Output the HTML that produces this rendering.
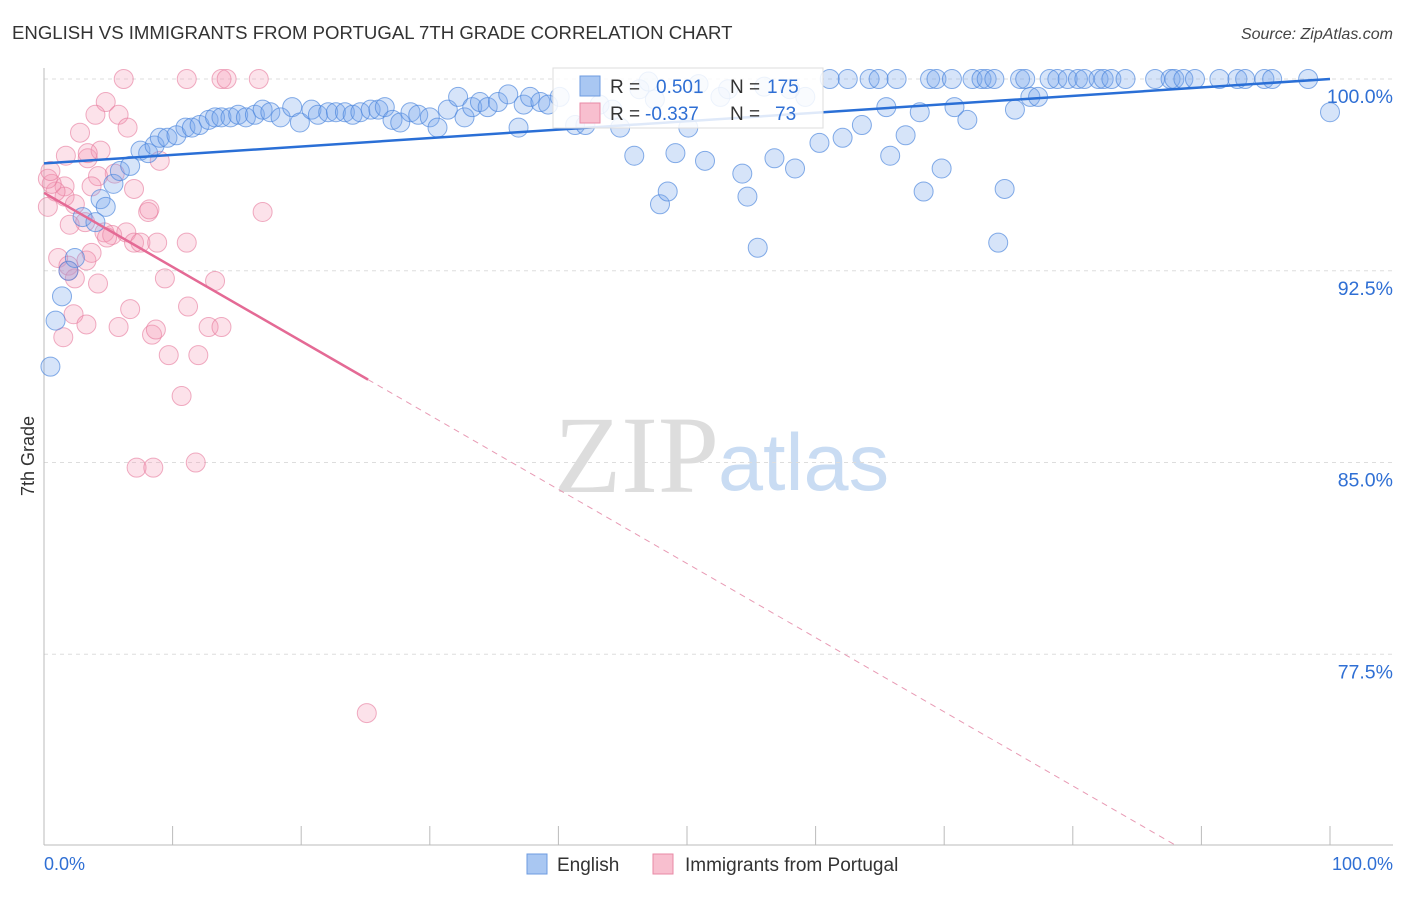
<!DOCTYPE html>
<html><head><meta charset="utf-8"><style>
body{margin:0;background:#fff;font-family:"Liberation Sans",sans-serif;}
svg text{font-family:"Liberation Sans",sans-serif;}
</style></head><body>
<svg id="chart" width="1406" height="892" viewBox="0 0 1406 892">
<text x="12" y="39" font-size="18.6" fill="#333">ENGLISH VS IMMIGRANTS FROM PORTUGAL 7TH GRADE CORRELATION CHART</text>
<text x="1393" y="39" font-size="16" fill="#444" font-style="italic" text-anchor="end">Source: ZipAtlas.com</text>
<text x="554" y="492" font-size="110" fill="#ddd" style="font-family:'Liberation Serif',serif">ZIP</text>
<text x="718" y="490" font-size="81" fill="#c9dcf3">atlas</text>
<g id="grid"></g>
<g id="axes"></g>
<g id="pts"></g>
<g id="lines"></g>
<text transform="translate(34,456) rotate(-90)" font-size="18" fill="#333" text-anchor="middle">7th Grade</text>
<g>
<rect x="553" y="68" width="270" height="60" fill="#fff" fill-opacity="0.85" stroke="#ddd"/>
<rect x="580" y="76" width="20" height="20" fill="#a9c7f2" stroke="#6d9be0"/>
<rect x="580" y="103" width="20" height="20" fill="#f8bfcf" stroke="#e88aa6"/>
<text x="610" y="93" font-size="19" fill="#333">R = </text><text x="656" y="93" font-size="19" fill="#2f6fd4">0.501</text>
<text x="730" y="93" font-size="19" fill="#333">N = </text><text x="767" y="93" font-size="19" fill="#2f6fd4">175</text>
<text x="610" y="120" font-size="19" fill="#333">R = </text><text x="645" y="120" font-size="19" fill="#2f6fd4">-0.337</text>
<text x="730" y="120" font-size="19" fill="#333">N = </text><text x="775" y="120" font-size="19" fill="#2f6fd4">73</text>
</g>
<g>
<rect x="527" y="854" width="20" height="20" fill="#a9c7f2" stroke="#6d9be0"/>
<text x="557" y="871" font-size="19" fill="#333">English</text>
<rect x="653" y="854" width="20" height="20" fill="#f8bfcf" stroke="#e88aa6"/>
<text x="685" y="871" font-size="19" fill="#333">Immigrants from Portugal</text>
</g>
<text x="44" y="870" font-size="18" fill="#2f6fd4">0.0%</text>
<text x="1393" y="870" font-size="18" fill="#2f6fd4" text-anchor="end">100.0%</text>
</svg>
<script>
const yTicks=[100,92.5,85,77.5];
const yTickLabels=["100.0%","92.5%","85.0%","77.5%"];
const xTicks=[0,10,20,30,40,50,60,70,80,90,100];
const englishX=[0.5,0.9,1.4,1.9,2.4,3.0,4.0,4.4,4.8,5.4,5.9,6.7,7.5,8.1,8.6,9.0,9.6,10.3,11.0,11.5,12.1,12.8,13.3,13.8,14.5,15.1,15.7,16.4,17.0,17.6,18.4,19.3,19.9,20.8,21.3,22.1,22.7,23.4,24.0,24.6,25.4,26.0,26.5,27.1,27.7,28.5,29.1,30.0,30.6,31.4,32.2,32.7,33.3,33.9,34.5,35.3,36.1,36.9,37.3,37.8,38.6,39.2,40.1,41.3,42.1,43.2,44.2,44.8,45.9,46.3,47.5,47.9,48.5,49.1,50.1,51.4,52.6,54.3,54.7,55.5,56.8,58.4,59.2,60.3,61.1,62.1,62.5,63.6,64.2,64.9,65.5,65.8,66.3,67.0,68.1,68.4,68.9,69.4,69.8,70.6,70.8,71.8,72.2,72.9,73.3,73.9,74.2,74.7,75.5,75.9,76.3,76.7,77.3,78.2,78.8,79.6,80.4,80.9,82.0,82.4,83.0,84.1,86.4,87.6,87.9,88.6,89.5,91.4,92.8,93.4,94.9,95.5,98.3,100,47.0,50.9,53.2,56.0,58.0];
const englishY=[88.75,90.55,91.5,92.5,93.0,94.6,94.4,95.3,95.0,95.9,96.4,96.6,97.2,97.1,97.4,97.7,97.7,97.8,98.1,98.1,98.2,98.4,98.5,98.5,98.5,98.6,98.5,98.6,98.8,98.7,98.5,98.9,98.3,98.8,98.6,98.7,98.7,98.7,98.6,98.7,98.8,98.8,98.9,98.4,98.3,98.7,98.6,98.5,98.1,98.8,99.3,98.5,98.9,99.1,98.9,99.1,99.4,98.1,99.0,99.3,99.1,99.0,99.3,98.2,98.2,99.0,98.8,98.1,97.0,99.6,99.2,95.1,95.6,97.1,98.1,96.8,99.3,96.3,95.4,93.4,96.9,96.5,99.3,97.5,100,97.7,100,98.2,100,100,98.9,97.0,100,97.8,98.7,95.6,100,100,96.5,100,98.9,98.4,100,100,100,100,93.6,95.7,98.8,100,100,99.3,99.3,100,100,100,100,100,100,100,100,100,100,100,100,100,100,100,100,100,100,100,100,98.7,99.9,99.8,99.6,99.7,99.6];
const portugalX=[6.2,11.1,13.8,14.2,16.7,4.8,4.0,5.8,2.8,6.5,3.4,1.7,4.4,3.4,5.5,4.2,3.7,1.6,1.6,0.9,0.6,0.3,0.3,2.4,7.0,8.1,8.2,17.0,2.0,3.2,4.7,5.3,6.4,7.0,7.5,8.8,11.1,4.9,1.1,1.9,3.3,3.7,2.4,4.2,9.4,13.3,6.7,11.2,2.3,5.8,3.3,8.4,8.7,12.8,13.8,1.5,9.7,12.0,10.7,7.2,8.5,11.8,25.1,9.0,1.9,0.5];
const portugalY=[100,100,100,100,100,99.1,98.6,98.6,97.9,98.1,96.9,97.0,97.2,97.1,96.3,96.2,95.8,95.8,95.4,95.6,95.9,96.1,95.0,95.1,95.7,94.8,94.9,94.8,94.3,94.4,94.0,93.9,94.0,93.6,93.6,93.6,93.6,93.8,93.0,92.7,92.9,93.2,92.2,92.0,92.2,92.1,91.0,91.1,90.8,90.3,90.4,90.0,90.2,90.3,90.3,89.9,89.2,89.2,87.6,84.8,84.8,85.0,75.2,96.8,92.5,96.4];
const englishTrend=[96.7,100.0];
const portugalTrend=[95.55,-0.29];
const portugalSolidEnd=25.2;

const NS="http://www.w3.org/2000/svg";
const X0=44,X1=1330,YTOP=79,YBOT=845,YMIN=70.04,YMAX=100;
const sx=v=>X0+(v/100)*(X1-X0);
const sy=v=>YBOT-(v-YMIN)/(YMAX-YMIN)*(YBOT-YTOP);
function mk(tag,attrs,parent){const e=document.createElementNS(NS,tag);for(const k in attrs)e.setAttribute(k,attrs[k]);parent.appendChild(e);return e;}
const grid=document.getElementById('grid'),axes=document.getElementById('axes'),pts=document.getElementById('pts'),lines=document.getElementById('lines');
yTicks.forEach((t,i)=>{
 const l=mk('line',{x1:X0,x2:1393,y1:sy(t),y2:sy(t),stroke:'#ddd','stroke-dasharray':'4,4'},grid);
 
 
 const tx=mk('text',{x:1393,y:sy(t)+24,'font-size':19.5,fill:'#2f6fd4','text-anchor':'end'},grid);
 tx.textContent=yTickLabels[i];
 
 
});
const ya=mk('line',{x1:X0,x2:X0,y1:68,y2:YBOT,stroke:'#bbb'},axes);


const xa=mk('line',{x1:X0,x2:1393,y1:YBOT,y2:YBOT,stroke:'#bbb'},axes);


xTicks.forEach(t=>{
 const tk=mk('line',{x1:sx(t),x2:sx(t),y1:826,y2:YBOT,stroke:'#bbb'},axes);
 
 
});
portugalX.forEach((x,i)=>{
 const c=mk('circle',{cx:sx(x),cy:sy(portugalY[i]),r:9.5,fill:'rgba(244,150,178,0.28)',stroke:'rgba(230,120,155,0.6)','stroke-width':1},pts);
 
 
});
englishX.forEach((x,i)=>{
 const c=mk('circle',{cx:sx(x),cy:sy(englishY[i]),r:9.5,fill:'rgba(120,165,235,0.3)',stroke:'rgba(70,130,220,0.65)','stroke-width':1},pts);
 
 
});
const bl=mk('line',{x1:sx(0),y1:sy(englishTrend[0]),x2:sx(100),y2:sy(englishTrend[1]),stroke:'#2a6fd6','stroke-width':2.5},lines);


const py=x=>portugalTrend[0]+portugalTrend[1]*x;
const pl=mk('line',{x1:sx(0),y1:sy(py(0)),x2:sx(portugalSolidEnd),y2:sy(py(portugalSolidEnd)),stroke:'#e46a95','stroke-width':2.5},lines);


const xEnd=(YMIN-portugalTrend[0])/portugalTrend[1];
const pd=mk('line',{x1:sx(portugalSolidEnd),y1:sy(py(portugalSolidEnd)),x2:sx(xEnd),y2:sy(py(xEnd)),stroke:'#e89ab4','stroke-width':1,'stroke-dasharray':'6,5'},lines);


</script>
</body></html>
